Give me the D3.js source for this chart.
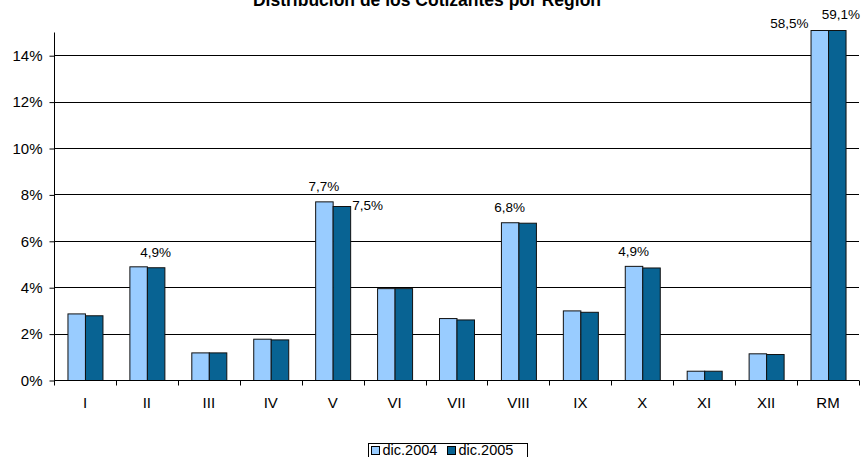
<!DOCTYPE html>
<html>
<head>
<meta charset="utf-8">
<script src="https://cdn.jsdelivr.net/npm/d3@7"></script>
<style>
  body { margin: 0; background: #fff; }
  svg { font-family: "Liberation Sans", Arial, sans-serif; }
</style>
</head>
<body>
<div id="chart"></div>
<script>
const regions = ["I", "II", "III", "IV", "V", "VI", "VII", "VIII", "IX", "X", "XI", "XII", "RM"];
const dic2004 = [2.87, 4.90, 1.19, 1.78, 7.70, 3.96, 2.67, 6.80, 3.00, 4.92, 0.40, 1.15, 58.5];
const dic2005 = [2.79, 4.86, 1.19, 1.75, 7.50, 3.96, 2.61, 6.78, 2.94, 4.85, 0.40, 1.12, 59.1];
const seriesNames = ["dic.2004", "dic.2005"];
const yTicks = [0, 2, 4, 6, 8, 10, 12, 14];
// labelled points: [region, series index, placement]
const labelled = [["II", 1, "top"], ["V", 0, "top"], ["V", 1, "right"], ["VIII", 0, "top"],
  ["X", 0, "top"], ["RM", 0, "left"], ["RM", 1, "top"]];

const width = 861, height = 457;
const margin = { top: 32, right: 2, bottom: 77, left: 54 };
const colors = ["#99ccff", "#086393"];

const svg = d3.select("#chart").append("svg")
  .attr("width", width).attr("height", height);

const x = d3.scaleBand().domain(regions).range([margin.left, width - margin.right]);
const inner = d3.scaleBand().domain([0, 1]).range([0, 35]);
const y = d3.scaleLinear().domain([0, 15]).range([height - margin.bottom, margin.top]);

// title (cut off at top, as in the original)
svg.append("text")
  .attr("x", 427).attr("y", 6)
  .attr("text-anchor", "middle")
  .attr("font-weight", "bold").attr("font-size", 17.5)
  .text("Distribución de los Cotizantes por Región");

// gridlines
svg.append("g").selectAll("line").data(yTicks.filter(d => d > 0)).join("line")
  .attr("x1", margin.left).attr("x2", width - margin.right)
  .attr("y1", d => Math.round(y(d)) + 0.5).attr("y2", d => Math.round(y(d)) + 0.5)
  .attr("stroke", "#000").attr("stroke-width", 1);

// bars
const data = regions.map((r, i) => ({ r, vals: [dic2004[i], dic2005[i]] }));
const barTop = y(15) - 2;
const groups = svg.append("g").selectAll("g").data(data).join("g")
  .attr("transform", d => `translate(${x(d.r) + (x.bandwidth() - 35) / 2},0)`);
groups.selectAll("rect").data(d => d.vals.map((v, s) => ({ v, s }))).join("rect")
  .attr("x", d => inner(d.s) + 0.5)
  .attr("y", d => Math.max(y(d.v), barTop) + 0.5)
  .attr("width", inner.bandwidth())
  .attr("height", d => y(0) - Math.max(y(d.v), barTop))
  .attr("fill", d => colors[d.s])
  .attr("stroke", "#111").attr("stroke-width", 1);

// axes
const yAxis = svg.append("g")
  .attr("transform", `translate(${margin.left + 0.5},0.5)`)
  .call(d3.axisLeft(y).tickValues(yTicks).tickSize(5).tickSizeOuter(0)
    .tickFormat(d => d + "%"));
yAxis.select(".domain").attr("d", `M0,${Math.round(y(0))}V${margin.top}`);
yAxis.selectAll("text").attr("font-size", 15).attr("font-family", null).attr("fill", "#000").attr("x", -12);

const xAxis = svg.append("g")
  .attr("transform", `translate(0,${Math.round(y(0)) + 0.5})`);
xAxis.append("line")
  .attr("x1", margin.left).attr("x2", width - margin.right)
  .attr("stroke", "#000");
xAxis.selectAll(".tick").data(regions.concat(["end"])).join("line")
  .attr("class", "tick")
  .attr("x1", (d, i) => Math.round(margin.left + i * x.step()) + 0.5)
  .attr("x2", (d, i) => Math.round(margin.left + i * x.step()) + 0.5)
  .attr("y1", 0).attr("y2", 5).attr("stroke", "#000");
xAxis.selectAll("text").data(regions).join("text")
  .attr("x", d => x(d) + x.bandwidth() / 2)
  .attr("y", 27)
  .attr("text-anchor", "middle").attr("font-size", 15)
  .text(d => d);

// data labels
const fmt = v => d3.format(".1f")(v).replace(".", ",") + "%";
const lab = svg.append("g").attr("font-size", 13.5).attr("fill", "#000");
labelled.forEach(([r, s, pos]) => {
  const i = regions.indexOf(r);
  const v = s === 0 ? dic2004[i] : dic2005[i];
  const bx = x(r) + (x.bandwidth() - 35) / 2 + inner(s);
  const by = Math.max(y(v), barTop);
  const t = lab.append("text").text(fmt(v));
  if (pos === "top") {
    const dx = r === "RM" ? 4 : 0;
    t.attr("x", bx + inner.bandwidth() / 2 + dx).attr("y", r === "RM" ? by - 11 : by - 10).attr("text-anchor", "middle");
  } else if (pos === "right") {
    t.attr("x", bx + inner.bandwidth() + 2).attr("y", by + 4);
  } else {
    t.attr("x", bx - 2).attr("y", by - 2).attr("text-anchor", "end");
  }
});

// legend
const leg = svg.append("g").attr("transform", "translate(368.5,443.5)");
leg.append("rect").attr("width", 159).attr("height", 18)
  .attr("fill", "#fff").attr("stroke", "#000");
seriesNames.forEach((n, s) => {
  const gx = s === 0 ? 3 : 79;
  leg.append("rect").attr("x", gx).attr("y", 3).attr("width", 8).attr("height", 8)
    .attr("fill", colors[s]).attr("stroke", "#000");
  leg.append("text").attr("x", gx + 11).attr("y", 11.5).attr("font-size", 14.5).text(n);
});
</script>
</body>
</html>
